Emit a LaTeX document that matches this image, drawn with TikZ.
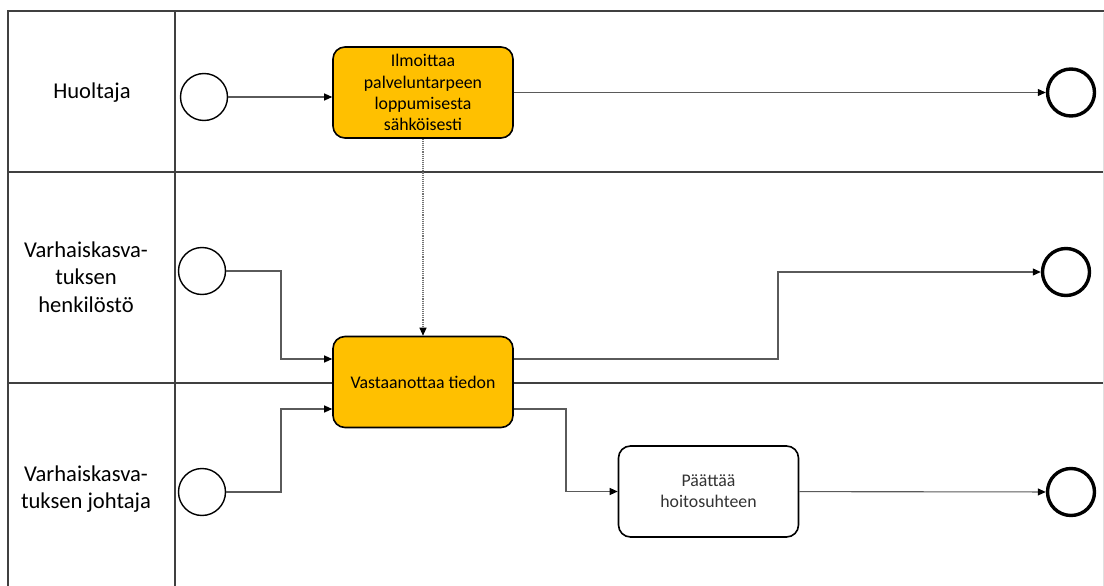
\documentclass[tikz,border=0pt]{standalone}
\usepackage{fontspec}
\setmainfont{Carlito}
\usetikzlibrary{arrows.meta}
\definecolor{taskgold}{RGB}{255,192,0}
\definecolor{laneline}{RGB}{64,64,64}
\definecolor{flowline}{RGB}{90,90,90}
\begin{document}
\begin{tikzpicture}[x=1pt,y=-1pt,
  lane/.style={draw=laneline,line width=1.6pt},
  lanelabel/.style={align=center,font=\fontsize{22.6}{27.6}\selectfont,text=black},
  taskbox/.style={draw=black,line width=1.6pt,rounded corners=12pt,
    minimum width=180pt,minimum height=91pt,align=center,inner sep=2pt,
    font=\fontsize{17.8}{21.2}\selectfont},
  hot/.style={taskbox,fill=taskgold,text=black},
  plain/.style={taskbox,fill=white,text=black!80},
  startev/.style={draw=black,circle,line width=1.4pt,minimum size=47pt,inner sep=0pt,fill=white},
  endev/.style={draw=black,circle,line width=3.4pt,minimum size=47pt,inner sep=0pt,fill=white},
  flow/.style={draw=flowline,line width=1.1pt,-{Triangle[length=8pt,width=7pt]},
    arrows={-{Triangle[length=8pt,width=7pt,color=black]}}},
  msg/.style={draw=black!55,line width=1.1pt,densely dotted,
    -{Triangle[length=8pt,width=7pt,color=black]}}]

% page extent
\useasboundingbox (0,0) rectangle (1104,586);

% pool and lanes
\draw[lane] (8,586) -- (8,11) -- (1104,11);
\draw[lane] (175,11) -- (175,586);
\draw[lane] (8,172) -- (1104,172);
\draw[lane] (8,383) -- (1104,383);
\draw[draw=black!12,line width=1pt] (1103,13) -- (1103,586);

% lane names
\node[lanelabel] (l1) at (92,93) {Huoltaja};
\node[lanelabel] (l2) at (86,277) {Varhaiskasva-\\tuksen\\henkilöstö};
\node[lanelabel] (l3) at (86,489) {Varhaiskasva-\\tuksen johtaja};

% events and tasks
\node[startev] (s1) at (204,97) {};
\node[hot] (t1) at (423,92.5) {Ilmoittaa\\palveluntarpeen\\loppumisesta\\sähköisesti};
\node[endev] (e1) at (1071,92.5) {};

\node[startev] (s2) at (202,271) {};
\node[hot] (t2) at (423,382) {Vastaanottaa tiedon};
\node[endev] (e2) at (1066,272) {};

\node[startev] (s3) at (202,492) {};
\node[plain] (t3) at (708.5,491.5) {Päättää\\hoitosuhteen};
\node[endev] (e3) at (1071,492) {};

% bend columns of the elbow connectors
\coordinate (k1) at (281,0);
\coordinate (k2) at (778,0);
\coordinate (k3) at (566,0);

% sequence flows
\draw[flow] (s1.east) -- (s1.east -| t1.west);
\draw[flow] (t1) -- (e1);
\draw[msg] (t1.south) -- (t2.north);
\draw[flow] (s2.east) -- (s2.east -| k1) |- ([yshift=23pt]t2.west);
\draw[flow] (s3.east) -- (s3.east -| k1) |- ([yshift=-27pt]t2.west);
\draw[flow] ([yshift=23pt]t2.east) -- ([yshift=23pt]t2.east -| k2) |- (e2.west);
\draw[flow] ([yshift=-27pt]t2.east) -- ([yshift=-27pt]t2.east -| k3) |- (t3.west);
\draw[flow] (t3) -- (e3);
\end{tikzpicture}
\end{document}
